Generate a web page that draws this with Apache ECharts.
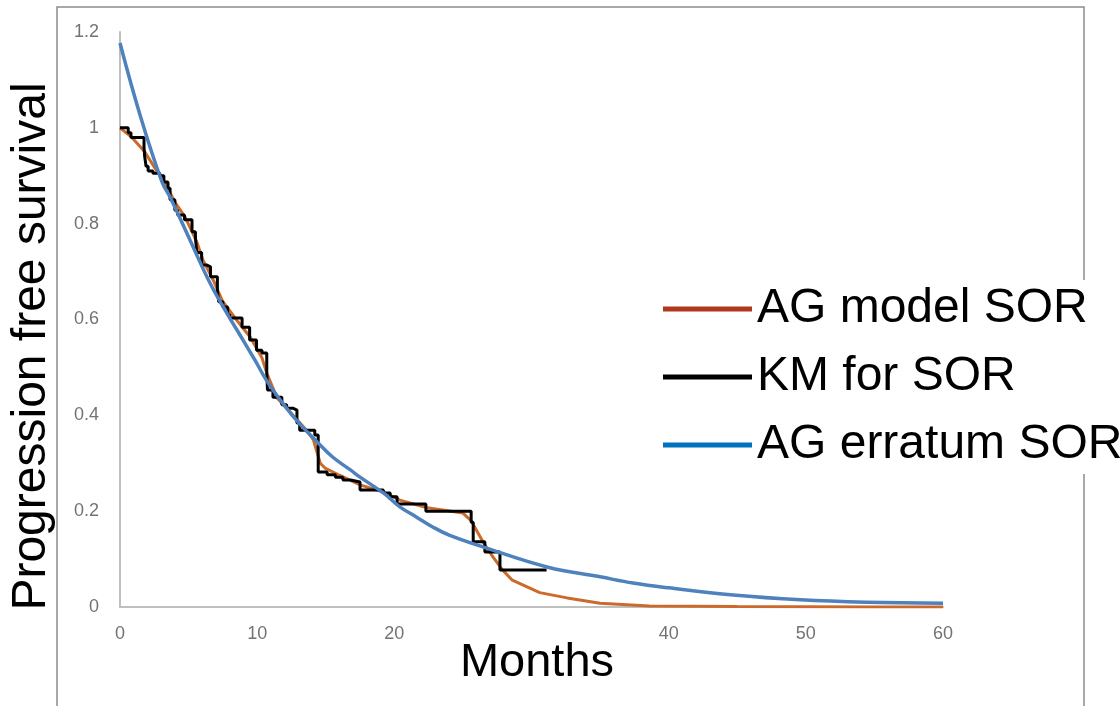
<!DOCTYPE html>
<html>
<head>
<meta charset="utf-8">
<script src="https://cdn.jsdelivr.net/npm/echarts@6/dist/echarts.min.js"></script>
<style>
  html, body { margin: 0; padding: 0; background: #fff; }
  #chart { width: 1120px; height: 706px; }
</style>
</head>
<body>
<div id="chart"></div>
<script>
// Kaplan-Meier steps for SOR (month, survival after the event)
const kmMonths = [0, 0.6, 0.8, 1.75, 1.8, 1.9, 2.05, 2.4, 2.9, 3.2, 3.5, 3.65, 4.0, 4.2, 4.7, 5.25, 5.5, 5.6, 5.95, 6.3, 6.6, 7.1, 7.2, 7.5, 7.85, 8.0, 8.9, 9.45, 9.95, 10.35, 10.7, 10.75, 11.15, 11.8, 12.15, 12.6, 12.9, 13.1, 14.2, 14.45, 15.1, 15.7, 16.25, 16.8, 17.5, 19.2, 19.7, 20.2, 22.3, 25.6, 25.75, 26.6, 27.7, 31.1];
const kmSurv = [1.0, 0.99, 0.98, 0.96, 0.94, 0.92, 0.91, 0.905, 0.9, 0.887, 0.874, 0.85, 0.828, 0.818, 0.808, 0.783, 0.77, 0.74, 0.714, 0.71, 0.689, 0.66, 0.637, 0.626, 0.61, 0.603, 0.584, 0.557, 0.536, 0.53, 0.49, 0.453, 0.438, 0.422, 0.415, 0.411, 0.384, 0.369, 0.359, 0.282, 0.276, 0.271, 0.265, 0.261, 0.244, 0.238, 0.23, 0.215, 0.2, 0.177, 0.136, 0.115, 0.077, 0.077];

// AG model SOR
const modelMonths = [0, 0.87, 1.8, 2.55, 3.3, 4.0, 4.74, 5.6, 6.05, 6.8, 7.5, 8.5, 9.5, 10.35, 10.7, 11.45, 12.4, 13.6, 14.1, 14.6, 14.95, 16, 17.5, 19.2, 20.4, 22.4, 25.0, 25.6, 26.5, 27.2, 27.9, 28.6, 30.6, 32.6, 35, 38.6, 45, 50, 55, 60];
const modelSurv = [1.0, 0.98, 0.95, 0.916, 0.885, 0.845, 0.814, 0.762, 0.724, 0.682, 0.637, 0.599, 0.563, 0.52, 0.488, 0.436, 0.407, 0.369, 0.349, 0.3, 0.29, 0.275, 0.255, 0.24, 0.223, 0.207, 0.196, 0.18, 0.134, 0.104, 0.077, 0.056, 0.03, 0.019, 0.008, 0.002, 0.001, 0.0005, 0.0002, 0.0001];

// AG erratum SOR
const erratumMonths = [0, 1.46, 3.06, 3.64, 5.1, 6.56, 7.8, 8.97, 9.84, 10.7, 11.9, 13.1, 14.36, 15.5, 16.8, 17.5, 19.2, 20.4, 21.6, 22.8, 24.0, 26.5, 31.2, 35, 37.4, 40, 44.7, 49.6, 54.4, 60];
const erratumSurv = [1.177, 1.027, 0.887, 0.856, 0.766, 0.676, 0.613, 0.557, 0.515, 0.472, 0.424, 0.382, 0.345, 0.313, 0.286, 0.271, 0.238, 0.209, 0.188, 0.167, 0.15, 0.125, 0.083, 0.063, 0.05, 0.04, 0.025, 0.015, 0.01, 0.008];

// month labels shown under the axis (30 is hidden behind the title in the original)
const monthLabels = ['0', '10', '20', '', '40', '50', '60'];

const seriesNames = ['AG model SOR', 'KM for SOR', 'AG erratum SOR'];
const lineColors = ['#CC6A2C', '#000000', '#4F81BD'];
const legendColors = ['#B0391C', '#000000', '#0070C0'];

const pairs = (xs, ys) => xs.map((x, i) => [x, ys[i]]);

const chart = echarts.init(document.getElementById('chart'));

const option = {
  backgroundColor: '#fff',
  animation: false,
  graphic: [{
    type: 'rect',
    z: 0,
    silent: true,
    shape: { x: 57, y: 7, width: 1027, height: 800 },
    style: { fill: 'none', stroke: '#8c8c8c', lineWidth: 1.5 }
  }],
  grid: { left: 120, right: 177, top: 32, bottom: 99, containLabel: false },
  legend: {
    orient: 'vertical',
    left: 640,
    top: 280,
    padding: [5, 40, 5, 23],
    backgroundColor: '#fff',
    selectedMode: false,
    icon: 'rect',
    itemWidth: 89,
    itemHeight: 5,
    itemGap: 20,
    textStyle: { fontFamily: 'Liberation Sans', fontSize: 48, lineHeight: 48, color: '#000' },
    data: seriesNames.map((n, i) => ({ name: n, itemStyle: { color: legendColors[i] } }))
  },
  xAxis: {
    type: 'value',
    min: 0,
    max: 60,
    interval: 10,
    name: 'Months',
    nameLocation: 'middle',
    nameGap: 33,
    nameMoveOverlap: false,
    nameTextStyle: {
      fontFamily: 'Liberation Sans', fontSize: 47, color: '#000',
      padding: [0, 0, 0, 11]
    },
    splitLine: { show: false },
    axisTick: { show: false },
    axisLine: { lineStyle: { color: '#bfbfbf', width: 2 } },
    axisLabel: {
      margin: 18, fontFamily: 'Liberation Sans', fontSize: 18, color: '#737373',
      formatter: (v) => monthLabels[Math.round(v / 10)]
    }
  },
  yAxis: {
    type: 'value',
    min: 0,
    max: 1.2,
    interval: 0.2,
    name: 'Progression free survival',
    nameLocation: 'middle',
    nameGap: 64,
    nameMoveOverlap: false,
    nameTextStyle: {
      fontFamily: 'Liberation Sans', fontSize: 48, color: '#000',
      padding: [0, 54, 0, 0]
    },
    splitLine: { show: false },
    axisTick: { show: false },
    axisLine: { show: true, lineStyle: { color: '#bfbfbf', width: 2 } },
    axisLabel: { margin: 21, fontFamily: 'Liberation Sans', fontSize: 18, color: '#737373' }
  },
  series: [
    {
      name: seriesNames[0],
      type: 'line',
      data: pairs(modelMonths, modelSurv),
      showSymbol: false,
      symbol: 'none',
      lineStyle: { color: lineColors[0], width: 3 },
      itemStyle: { color: lineColors[0] }
    },
    {
      name: seriesNames[1],
      type: 'line',
      step: 'end',
      data: pairs(kmMonths, kmSurv),
      showSymbol: false,
      symbol: 'none',
      lineStyle: { color: lineColors[1], width: 3 },
      itemStyle: { color: lineColors[1] }
    },
    {
      name: seriesNames[2],
      type: 'line',
      smooth: 0.4,
      data: pairs(erratumMonths, erratumSurv),
      showSymbol: false,
      symbol: 'none',
      lineStyle: { color: lineColors[2], width: 3.5 },
      itemStyle: { color: lineColors[2] }
    }
  ]
};

chart.setOption(option);
</script>
</body>
</html>
